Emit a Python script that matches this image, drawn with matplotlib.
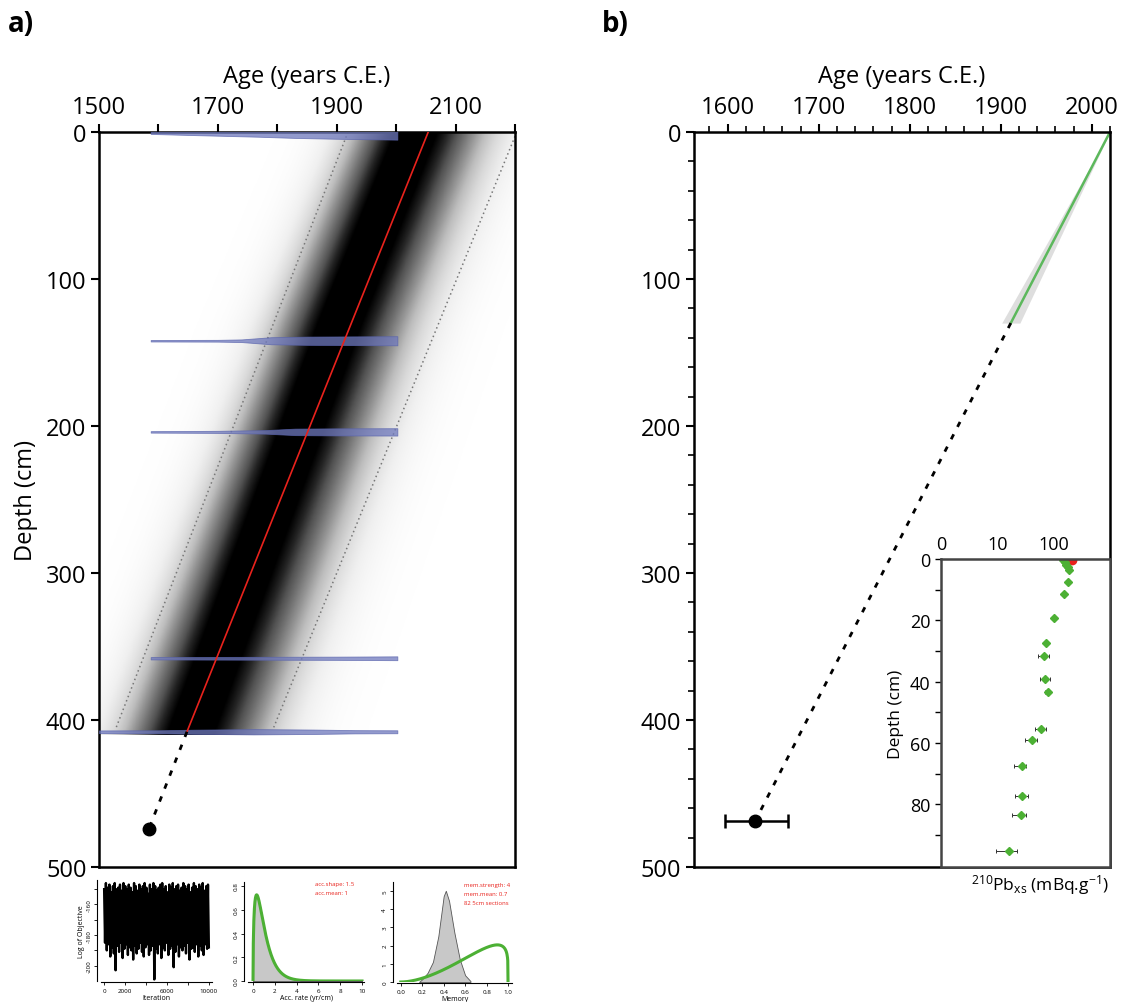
import matplotlib.pyplot as plt
import numpy as np
from math import gamma
from matplotlib.ticker import FixedLocator, NullLocator

plt.rcParams['font.family'] = ['Open Sans', 'DejaVu Sans']
plt.rcParams['mathtext.default'] = 'regular'

# ---------------- data ----------------
# panel a : age-depth model
red_depth = [0, 408]
red_age = [2054, 1648]
core_depth = [0, 130, 410]          # centre of the grey cloud
core_age = [2030, 1902, 1650]
core_spread = [68, 70, 74]          # years
range_depth = [0, 405]
range_lo = [1919, 1529]
range_hi = [2203, 1794]
extrap_a_depth = [408, 474]
extrap_a_age = [1648, 1584]

date_depth = [0, 142, 204, 358, 408]
date_ages = [
    [1587, 1650, 1767, 1828, 1900, 2002],
    [1587, 1700, 1740, 1790, 1850, 2002],
    [1587, 1700, 1780, 1830, 1900, 2002],
    [1587, 1800, 1900, 2002],
    [1500, 1600, 1660, 1760, 1860, 1930, 2002],
]
date_halfw = [
    [1.3, 2.0, 3.2, 4.0, 4.6, 5.2],
    [0.5, 0.6, 0.9, 2.4, 2.8, 3.1],
    [0.5, 0.7, 1.2, 2.2, 2.4, 2.5],
    [0.8, 1.0, 1.1, 1.3],
    [0.9, 1.0, 1.4, 1.8, 1.5, 1.1, 1.0],
]

# panel a : diagnostics
trace_up = [-150, -146, -149, -147, -152, -148, -146, -150, -149, -147, -151, -146,
            -148, -150, -147, -149, -152, -146, -148, -151, -147, -150, -148, -146,
            -149, -153, -147, -150, -146, -148, -151, -149, -147, -146, -150, -148,
            -152, -147, -149, -146, -150, -148, -147, -151, -149, -146, -148, -150,
            -147, -152, -149, -146, -148, -150, -147, -149, -146, -151, -148, -147]
trace_lo = [-185, -190, -186, -194, -188, -192, -203, -187, -191, -185, -195, -189,
            -186, -193, -188, -190, -196, -187, -192, -189, -185, -191, -194, -188,
            -186, -193, -190, -187, -209, -189, -192, -186, -195, -188, -190, -185,
            -193, -189, -187, -201, -191, -186, -194, -188, -190, -187, -192, -185,
            -196, -189, -188, -191, -186, -194, -187, -190, -193, -186, -189, -188]
acc_shape = 1.5
acc_mean = 1
mem_strength = 4
mem_mean = 0.7
mem_post_x = [0.17, 0.2, 0.25, 0.3, 0.35, 0.4, 0.42, 0.45, 0.5, 0.55, 0.6, 0.65]
mem_post_y = [0.0, 0.15, 0.5, 1.1, 2.5, 4.7, 5.0, 4.45, 2.7, 1.25, 0.37, 0.05]

# panel b : CRS model
crs_depth = [0, 130]
crs_age = [2020, 1911]
crs_err = [0, 10]
extrap_b_depth = [130, 469]
extrap_b_age = [1911, 1630]
dot_b = (1630, 469)
dot_b_err = ([33], [36])

# panel b inset : 210Pb excess
pb_depth = [0.2, 1.1, 1.8, 2.7, 3.5, 7.5, 11.4, 19.3, 27.5, 31.5, 39.2, 43.5,
            55.4, 59.1, 67.5, 77.2, 83.5, 95.4]
pb_val = [144, 154, 165, 176, 184, 179, 152, 101, 72, 66, 69.5, 77,
          59, 41.6, 26.6, 27.7, 25.6, 15.7]
pb_lo = [10, 10, 10, 10, 10, 10, 9, 8, 6, 13.5, 13.5, 7, 12, 10.6, 7.3, 7.1, 7.7, 6.3]
pb_hi = [10, 10, 10, 10, 10, 10, 9, 8, 6, 16, 16.5, 7, 14, 9.4, 6.0, 7.6, 7.0, 6.3]
pb_top_depth = 0.3
pb_top_val = 207

# ---------------- layout ----------------
W, H = 1143, 1003
fig = plt.figure(figsize=(W / 100, H / 100), dpi=100)


def box(x0, y0, x1, y1):
    return [x0 / W, 1 - y1 / H, (x1 - x0) / W, (y1 - y0) / H]


GREEN = '#4cb034'
RED = '#e8221c'

# ================= panel a =================
axa = fig.add_axes(box(99, 133, 515, 868))

ages = np.linspace(1500, 2200, 701)
depths = np.arange(0, 411)
c = np.interp(depths, core_depth, core_age)
s = np.interp(depths, core_depth, core_spread)
dd = ages[None, :] - c[:, None]
ss = np.where(dd > 0, s[:, None] * 1.2, s[:, None])
dens = np.clip(1.12 * np.exp(-0.5 * (dd / ss) ** 2), 0, 1)
axa.imshow(dens, extent=[1500, 2200, 410, 0], aspect='auto', cmap='Greys',
           vmin=0, vmax=1, interpolation='bilinear', zorder=0)

axa.plot(range_lo, range_depth, ls=(0, (1, 2)), color='#777777', lw=1.1, zorder=2)
axa.plot(range_hi, range_depth, ls=(0, (1, 2)), color='#777777', lw=1.1, zorder=2)

for dep, ag, hw in zip(date_depth, date_ages, date_halfw):
    hw = np.array(hw)
    axa.fill_between(ag, dep - hw, dep + hw, color='#6f79bd', alpha=0.75,
                     edgecolor='#5a64ad', lw=0.6, zorder=3)

axa.plot(red_age, red_depth, color=RED, lw=1.2, zorder=4)
axa.plot(extrap_a_age, extrap_a_depth, color='black', lw=2, ls=(0, (2, 3)), zorder=4)
axa.plot(extrap_a_age[-1], extrap_a_depth[-1], 'o', color='black', ms=9, zorder=5)

axa.set_xlim(1500, 2200)
axa.set_ylim(500, 0)
axa.xaxis.tick_top()
axa.xaxis.set_label_position('top')
axa.set_xticks(range(1500, 2201, 100))
axa.set_xticklabels(['1500', '', '1700', '', '1900', '', '2100', ''])
axa.set_yticks(range(0, 501, 100))
axa.tick_params(direction='out', length=6, width=1.5, labelsize=17, pad=3)
axa.set_xlabel('Age (years C.E.)', fontsize=17, labelpad=10)
axa.set_ylabel('Depth (cm)', fontsize=17, labelpad=6)
for sp in axa.spines.values():
    sp.set_linewidth(1.8)

# ---- diagnostics: log objective
ax1 = fig.add_axes(box(101, 881, 212, 982))
n = len(trace_up)
it = np.linspace(0, 10000, 2 * n)
trace = np.column_stack([trace_up, trace_lo]).ravel()
ax1.plot(it, trace, color='black', lw=1.7)
ax1.set_xlim(-300, 10300)
ax1.set_ylim(-210, -144)
ax1.set_xticks([0, 2000, 4000, 6000, 8000, 10000])
ax1.set_xticklabels(['0', '2000', '', '6000', '', '10000'])
ax1.set_yticks([-150, -160, -170, -180, -190, -200])
ax1.set_yticklabels(['', '-160', '', '-180', '', '-200'])
ax1.set_xlabel('Iteration', fontsize=5, labelpad=1)
ax1.set_ylabel('Log of Objective', fontsize=5, labelpad=1)

# ---- diagnostics: accumulation rate
ax2 = fig.add_axes(box(248, 883, 364, 982))
th = acc_mean / acc_shape
xr = np.linspace(0, 10, 400)
gam = xr ** (acc_shape - 1) * np.exp(-xr / th) / (gamma(acc_shape) * th ** acc_shape)
ax2.fill_between(xr, 0, gam, color='#c8c8c8', edgecolor='#555555', lw=0.6)
ax2.plot(xr, gam, color=GREEN, lw=2.2)
ax2.set_xlim(-0.46, 10.18)
ax2.set_ylim(0, 0.834)
ax2.set_xticks([0, 2, 4, 6, 8, 10])
ax2.set_yticks([0, 0.2, 0.4, 0.6, 0.8])
ax2.set_yticklabels(['0.0', '0.2', '0.4', '0.6', '0.8'])
ax2.set_xlabel('Acc. rate (yr/cm)', fontsize=5, labelpad=1)

# ---- diagnostics: memory
ax3 = fig.add_axes(box(397, 883, 512, 983))
a_ = mem_strength * mem_mean
b_ = mem_strength * (1 - mem_mean)
xm = np.linspace(0, 1, 400)
beta = xm ** (a_ - 1) * (1 - xm) ** (b_ - 1) * gamma(a_ + b_) / (gamma(a_) * gamma(b_))
ax3.fill_between(mem_post_x, 0, mem_post_y, color='#c8c8c8', edgecolor='#555555', lw=0.6)
ax3.plot(xm, beta, color=GREEN, lw=2.2)
ax3.set_xlim(-0.035, 1.037)
ax3.set_ylim(0, 5.48)
ax3.set_xticks([0, 0.2, 0.4, 0.6, 0.8, 1.0])
ax3.set_xticklabels(['0.0', '0.2', '0.4', '0.6', '0.8', '1.0'])
ax3.set_yticks([0, 1, 2, 3, 4, 5])
ax3.set_xlabel('Memory', fontsize=5, labelpad=1)

for ax in (ax1, ax2, ax3):
    ax.spines['top'].set_visible(False)
    ax.spines['right'].set_visible(False)
    ax.spines['left'].set_position(('outward', 3))
    ax.spines['bottom'].set_position(('outward', 1))
    for sp in ('left', 'bottom'):
        ax.spines[sp].set_linewidth(0.8)
    ax.tick_params(labelsize=4.5, length=2.5, width=0.6, pad=1.5)
    for lab in ax.get_yticklabels():
        lab.set_rotation(90)
        lab.set_va('center')

fig.text(315 / W, 1 - 885 / H, 'acc.shape: 1.5', color=RED, fontsize=4.3, va='center')
fig.text(315 / W, 1 - 894 / H, 'acc.mean: 1', color=RED, fontsize=4.3, va='center')
fig.text(464 / W, 1 - 886 / H, 'mem.strength: 4', color=RED, fontsize=4.3, va='center')
fig.text(464 / W, 1 - 895 / H, 'mem.mean: 0.7', color=RED, fontsize=4.3, va='center')
fig.text(464 / W, 1 - 904 / H, '82 5cm sections', color=RED, fontsize=4.3, va='center')

# ================= panel b =================
axb = fig.add_axes(box(694, 133, 1110, 868))
err = np.array(crs_err)
axb.fill_betweenx(crs_depth, np.array(crs_age) - err, np.array(crs_age) + err,
                  color='#dedede', lw=0)
axb.plot(crs_age, crs_depth, color='#5cb85c', lw=1.8)
axb.plot(extrap_b_age, extrap_b_depth, color='black', lw=2, ls=(0, (2, 3)))
axb.errorbar([dot_b[0]], [dot_b[1]], xerr=dot_b_err, fmt='o', color='black',
             ms=9, elinewidth=1.8, capsize=5, capthick=1.8)
axb.set_xlim(1563, 2020)
axb.set_ylim(500, 0)
axb.xaxis.tick_top()
axb.xaxis.set_label_position('top')
axb.set_xticks(range(1600, 2001, 100))
axb.xaxis.set_minor_locator(FixedLocator(range(1580, 2021, 20)))
axb.set_yticks(range(0, 501, 100))
axb.yaxis.set_minor_locator(FixedLocator(range(20, 500, 20)))
axb.tick_params(which='major', direction='out', length=6, width=1.5, labelsize=17, pad=3)
axb.tick_params(which='minor', direction='out', length=4, width=1.2)
axb.set_xlabel('Age (years C.E.)', fontsize=17, labelpad=10)
for sp in axb.spines.values():
    sp.set_linewidth(1.8)

# ---- inset
axi = fig.add_axes(box(941, 560, 1110, 868))
axi.errorbar(pb_val, pb_depth, xerr=[pb_lo, pb_hi], fmt='D', color=GREEN, ms=4.5,
             ecolor='#333333', elinewidth=0.7, capsize=1.5, capthick=0.7)
axi.plot(pb_top_val, pb_top_depth, 'o', color=RED, ms=6)
axi.set_xscale('log')
axi.set_xlim(1, 980)
axi.set_ylim(100.5, 0)
axi.xaxis.tick_top()
axi.set_xticks([1, 10, 100])
axi.set_xticklabels(['0', '10', '100'])
axi.xaxis.set_minor_locator(NullLocator())
axi.set_yticks(range(0, 81, 20))
axi.yaxis.set_minor_locator(FixedLocator(range(10, 100, 20)))
axi.tick_params(axis='x', length=0, labelsize=13, pad=4)
axi.tick_params(axis='y', which='both', direction='out', length=4, width=1, labelsize=13)
axi.set_ylabel('Depth (cm)', fontsize=12.5, labelpad=4)
for sp in axi.spines.values():
    sp.set_linewidth(1.8)
    sp.set_color('#444444')
axi.text(0.585, -0.055, r'$^{210}$Pb$_{xs}$ (mBq.g$^{-1}$)', transform=axi.transAxes,
         ha='center', va='center', fontsize=12.5)

# panel letters
fig.text(8 / W, 1 - 24 / H, 'a)', fontsize=20, fontweight='bold', va='center')
fig.text(602 / W, 1 - 24 / H, 'b)', fontsize=20, fontweight='bold', va='center')

fig.savefig('out.png', dpi=100)
